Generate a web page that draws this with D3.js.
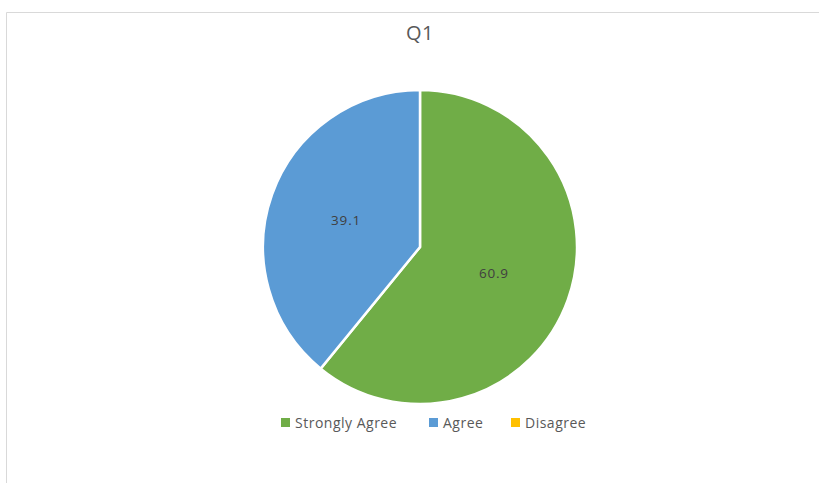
<!DOCTYPE html>
<html><head><meta charset="utf-8">
<script src="https://cdn.jsdelivr.net/npm/d3@7"></script>
<style>body{margin:0;background:#fff;}svg{display:block;font-family:"Open Sans","Liberation Sans",sans-serif;}</style>
</head><body>
<svg id="c" width="819" height="483"></svg>
<script>
const categories = ["Strongly Agree", "Agree", "Disagree"];
const values = [60.9, 39.1, 0];
const colors = ["#70AD47", "#5B9BD5", "#FFC000"];
const title = "Q1";

const svg = d3.select("#c");
// chart area border (left & top visible)
svg.append("path").attr("d","M6.5,483 V12.5 H819").attr("fill","none").attr("stroke","#d9d9d9").attr("stroke-width",1);

svg.append("text").attr("x",420).attr("y",40).attr("text-anchor","middle")
  .attr("font-size",20).attr("letter-spacing",0.5).attr("fill","#595959").text(title);

const cx=420, cy=247, r=157;
const data = categories.map((c,i)=>({cat:c,value:values[i],color:colors[i]}));
const pie = d3.pie().sort(null).value(d=>d.value);
const arc = d3.arc().innerRadius(0).outerRadius(r);
const g = svg.append("g").attr("transform",`translate(${cx},${cy})`);
const arcs = pie(data);
g.selectAll("path").data(arcs.filter(a=>a.data.value>0)).join("path")
  .attr("d",arc).attr("fill",d=>d.data.color).attr("stroke","#fff").attr("stroke-width",2.5).attr("stroke-linejoin","miter");
g.selectAll("text").data(arcs.filter(a=>a.data.value>0)).join("text")
  .attr("transform",d=>`translate(${arc.centroid(d)})`)
  .attr("text-anchor","middle").attr("dy","0.35em")
  .attr("font-size",13.5).attr("letter-spacing",0.8).attr("fill","#404040").text(d=>d.data.value.toFixed(1));

// legend
const legX=[281,429,511];
const lg = svg.append("g");
data.forEach((d,i)=>{
  lg.append("rect").attr("x",legX[i]).attr("y",418).attr("width",9).attr("height",9).attr("fill",d.color);
  lg.append("text").attr("x",legX[i]+14).attr("y",428).attr("font-size",14).attr("letter-spacing",0.5).attr("fill","#595959").text(d.cat);
});
</script>
</body></html>
